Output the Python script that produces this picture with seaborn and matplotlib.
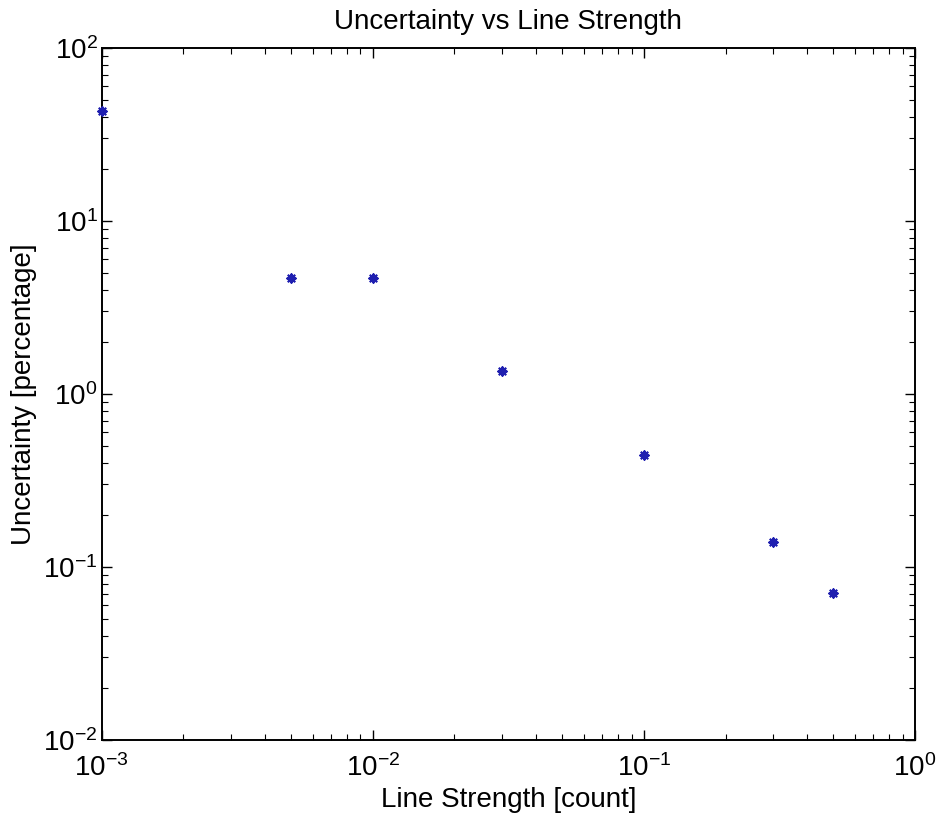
import matplotlib
matplotlib.use("Agg")
import matplotlib.pyplot as plt
import seaborn as sns
import pandas as pd

# Measured uncertainty for each line strength
line_strength = [0.001, 0.005, 0.01, 0.03, 0.1, 0.3, 0.5]
uncertainty_pct = [43.5, 4.7, 4.7, 1.35, 0.446, 0.139, 0.071]

title = "Uncertainty vs Line Strength"
xlabel = "Line Strength [count]"
ylabel = "Uncertainty [percentage]"

sns.set_style("white")
plt.rcParams["font.family"] = ["Liberation Sans", "DejaVu Sans"]
plt.rcParams["mathtext.fontset"] = "custom"
plt.rcParams["mathtext.rm"] = "Liberation Sans"
plt.rcParams["mathtext.it"] = "Liberation Sans:italic"
plt.rcParams["mathtext.bf"] = "Liberation Sans:bold"
plt.rcParams["text.color"] = "black"
plt.rcParams["axes.labelcolor"] = "black"
plt.rcParams["xtick.color"] = "black"
plt.rcParams["ytick.color"] = "black"

df = pd.DataFrame({"strength": line_strength, "uncertainty": uncertainty_pct})

fig = plt.figure(figsize=(9.45, 8.26), dpi=100)
ax = fig.add_axes([0.1076, 0.1041, 0.8607, 0.8378])

sns.scatterplot(data=df, x="strength", y="uncertainty", ax=ax,
                marker=(8, 2, 0), s=36, color="#1f1fb0", linewidth=1.5,
                legend=False, zorder=3, clip_on=False)

ax.set_xscale("log")
ax.set_yscale("log")
ax.set_xlim(1e-3, 1e0)
ax.set_ylim(1e-2, 1e2)

for side in ax.spines.values():
    side.set_visible(True)
    side.set_color("black")
    side.set_linewidth(1.4)

ax.tick_params(which="both", direction="in", top=True, right=True,
               bottom=True, left=True, color="black")
ax.tick_params(which="major", length=7, width=1.0, labelsize=20)
ax.tick_params(which="minor", length=4, width=0.8)
ax.tick_params(axis="x", which="major", pad=10)
ax.tick_params(axis="y", which="major", pad=3)

ax.set_title(title, fontsize=20, pad=14)
ax.set_xlabel(xlabel, fontsize=20, labelpad=4)
ax.set_ylabel(ylabel, fontsize=20)
ax.yaxis.set_label_coords(-0.08, 0.5)

fig.savefig("out.png", dpi=100, facecolor="white")
